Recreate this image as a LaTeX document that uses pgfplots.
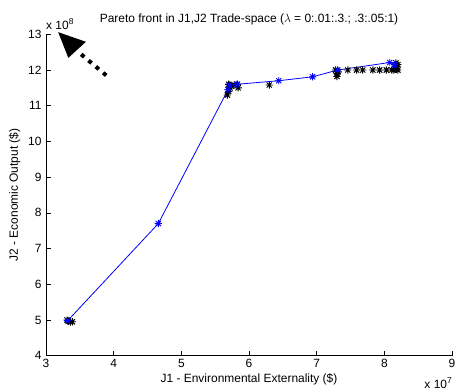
\documentclass[border=0pt]{standalone}
\usepackage{fontspec}
\setmainfont{Liberation Sans}
\usepackage{pgfplots}
\pgfplotsset{compat=1.18}
\pgfdeclareplotmark{mstar}{%
  \pgfpathmoveto{\pgfqpoint{-\pgfplotmarksize}{0pt}}\pgfpathlineto{\pgfqpoint{\pgfplotmarksize}{0pt}}%
  \pgfpathmoveto{\pgfqpoint{0pt}{-\pgfplotmarksize}}\pgfpathlineto{\pgfqpoint{0pt}{\pgfplotmarksize}}%
  \pgfpathmoveto{\pgfqpoint{-0.72\pgfplotmarksize}{-0.72\pgfplotmarksize}}\pgfpathlineto{\pgfqpoint{0.72\pgfplotmarksize}{0.72\pgfplotmarksize}}%
  \pgfpathmoveto{\pgfqpoint{-0.72\pgfplotmarksize}{0.72\pgfplotmarksize}}\pgfpathlineto{\pgfqpoint{0.72\pgfplotmarksize}{-0.72\pgfplotmarksize}}%
  \pgfusepathqstroke}
\begin{document}
\begin{tikzpicture}
\useasboundingbox (-46bp,-35.3bp) rectangle (410bp,355.7bp);
\begin{axis}[
  scale only axis, width=406bp, height=321.4bp,
  xmin=3, xmax=9, ymin=4, ymax=13,
  axis x line*=bottom, axis y line*=left,
  xtick={3,...,9}, ytick={4,...,13},
  tick align=inside, major tick length=4.5bp,
  tick style={black, line width=0.6pt},
  axis line style={black, line width=0.7pt},
  font=\fontsize{12}{14}\selectfont,
  /pgf/number format/assume math mode=true,
  ticklabel style={font=\fontsize{12}{14}\selectfont},
  xticklabel style={yshift=0bp},
  yticklabel style={xshift=-1bp},
  xlabel={J1 - Environmental Externality (\$)},
  ylabel={J2 - Economic Output (\$)},
  xlabel style={at={(0.5,0)}, anchor=north, yshift=-14bp},
  ylabel style={at={(0,0.5)}, anchor=south, yshift=22bp},
  title={Pareto front in J1,J2 Trade-space ($\lambda$ = 0:.01:.3.; .3:.05:1)},
  title style={at={(0.5,1)}, anchor=base, yshift=6bp, font=\fontsize{12}{14}\selectfont},
  clip=false,
]
\addplot[only marks, black, mark=mstar, mark size=3.6bp, line width=0.95pt] coordinates {
 (3.33,4.97) (3.36,4.94) (3.39,4.95) (3.31,5.0)
 (5.68,11.3) (5.70,11.4) (5.72,11.5) (5.74,11.55) (5.70,11.6) (5.84,11.5) (5.83,11.6) (5.78,11.58)
 (6.30,11.58)
 (7.30,11.82) (7.30,11.9) (7.28,12.0) (7.32,11.95)
 (7.46,12.0) (7.59,12.0) (7.68,12.0) (7.83,12.0) (7.93,12.0) (8.03,12.0) (8.11,12.0) (8.20,12.0)
 (8.15,12.05) (8.18,12.1) (8.20,12.15) (8.17,12.2) (8.14,12.0) (8.18,12.02)
};
\addplot[blue, line width=0.8pt, mark=mstar, mark size=3.6bp, mark options={solid, blue, line width=0.95pt}] coordinates {
 (3.32,4.98) (4.66,7.7) (5.69,11.45) (5.71,11.58) (5.82,11.6) (6.44,11.7) (6.94,11.81) (7.31,12.0) (8.08,12.21) (8.15,12.15)
};
\draw[black, line width=4pt, dash pattern=on 4pt off 5.6pt] (axis cs:3.89,11.85) -- (axis cs:3.50,12.47);
\fill[black] (axis cs:3.18,13.06) -- (axis cs:3.33,12.34) -- (axis cs:3.59,12.79) -- cycle;
\node[anchor=base west, inner sep=0pt, font=\fontsize{12}{14}\selectfont] at (rel axis cs:0,1) [yshift=5bp] {x 10\raisebox{5pt}{\fontsize{8.5}{10}\selectfont 8}};
\node[anchor=base east, inner sep=0pt, font=\fontsize{12}{14}\selectfont] at (rel axis cs:1,0) [yshift=-32.3bp, xshift=0bp] {x 10\raisebox{5pt}{\fontsize{8.5}{10}\selectfont 7}};
\end{axis}
\end{tikzpicture}
\end{document}
